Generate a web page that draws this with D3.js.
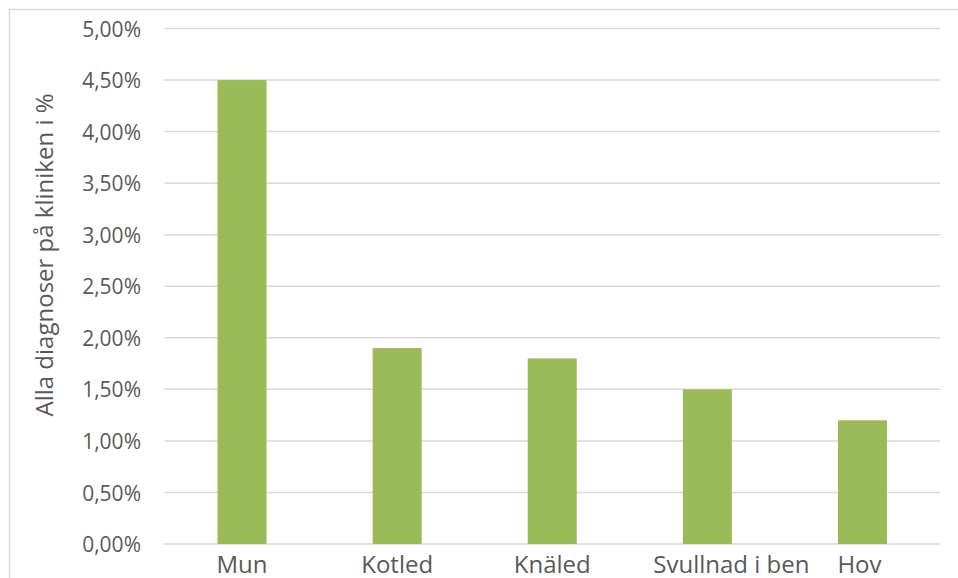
<!DOCTYPE html>
<html>
<head>
<meta charset="utf-8">
<script src="https://cdn.jsdelivr.net/npm/d3@7"></script>
<style>
  html, body { margin: 0; padding: 0; background: #fff; }
  svg { display: block; }
  text { font-family: "Open Sans", sans-serif; fill: #595959; }
</style>
</head>
<body>
<svg id="chart" width="958" height="578"></svg>
<script>
// Diagnoses as share of all diagnoses at the clinic
const categories = ["Mun", "Kotled", "Knäled", "Svullnad i ben", "Hov"];
const values = [4.5, 1.9, 1.8, 1.5, 1.2];
const yTicks = [0, 0.5, 1, 1.5, 2, 2.5, 3, 3.5, 4, 4.5, 5];
const yTitle = "Alla diagnoser på kliniken i %";

const svg = d3.select("#chart");
const W = 958, H = 578;
const plot = { left: 164.5, right: 940, top: 28.5, bottom: 544 };

// Outer chart frame (runs past the right and bottom edges)
svg.append("rect")
  .attr("x", 9.5).attr("y", 9.5)
  .attr("width", 1000).attr("height", 1000)
  .attr("fill", "none")
  .attr("stroke", "#d9d9d9")
  .attr("stroke-width", 1.5);

const x = d3.scaleBand()
  .domain(categories)
  .range([plot.left, plot.right])
  .paddingInner(0.684)
  .paddingOuter(0.342);

const y = d3.scaleLinear()
  .domain([0, 5])
  .range([plot.bottom, plot.top]);

const fmt = v => v.toFixed(2).replace(".", ",") + "%";

// Horizontal gridlines
svg.append("g")
  .selectAll("line")
  .data(yTicks)
  .join("line")
  .attr("x1", plot.left).attr("x2", plot.right)
  .attr("y1", d => y(d)).attr("y2", d => y(d))
  .attr("stroke", "#d9d9d9")
  .attr("stroke-width", 1.5);

// Bars
svg.append("g")
  .selectAll("rect")
  .data(values)
  .join("rect")
  .attr("x", (d, i) => x(categories[i]))
  .attr("width", x.bandwidth())
  .attr("y", d => y(d))
  .attr("height", d => y(0) - y(d))
  .attr("fill", "#9bbb59");

// Y axis labels
const yAxis = d3.axisLeft(y)
  .tickValues(yTicks)
  .tickFormat(fmt)
  .tickSize(0)
  .tickPadding(0);

const gy = svg.append("g")
  .attr("transform", `translate(141,0)`)
  .call(yAxis);
gy.select(".domain").remove();
gy.selectAll("text")
  .style("font-size", "21px")
  .attr("font-family", "Open Sans")
  .attr("fill", "#595959")
  .attr("dy", "0.36em");

// X axis labels
const xAxis = d3.axisBottom(x).tickSize(0).tickPadding(0);
const gx = svg.append("g")
  .attr("transform", `translate(0,${plot.bottom})`)
  .call(xAxis);
gx.select(".domain").remove();
gx.selectAll("text")
  .style("font-size", "24px")
  .attr("font-family", "Open Sans")
  .attr("fill", "#595959")
  .attr("dy", "0")
  .attr("y", 29)
  .attr("dx", d => d === "Svullnad i ben" ? 24 : (d === "Hov" ? -3 : 0));

// Y axis title
svg.append("text")
  .attr("transform", "translate(53,255) rotate(-90)")
  .attr("text-anchor", "middle")
  .style("font-size", "24px")
  .text(yTitle);
</script>
</body>
</html>
